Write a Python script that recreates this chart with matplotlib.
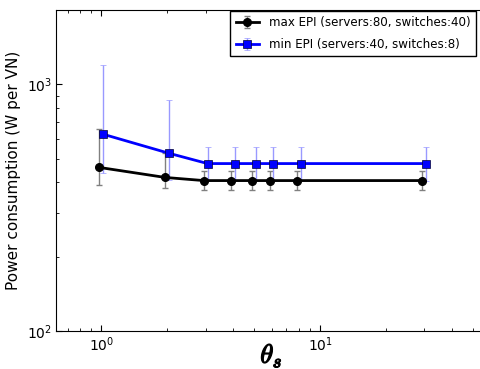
import matplotlib
matplotlib.use("Agg")
import matplotlib.pyplot as plt
import matplotlib.patheffects as pe

plt.rcParams['font.family'] = 'DejaVu Sans'
plt.rcParams['mathtext.fontset'] = 'cm'

theta = [1, 2, 3, 4, 5, 6, 8, 30]

max_epi = [460, 419, 407, 407, 407, 407, 407, 407]
max_lo = [392, 381, 371, 371, 371, 371, 371, 371]
max_hi = [656, 525, 445, 445, 445, 445, 445, 445]

min_epi = [627, 525, 477, 477, 477, 477, 477, 477]
min_lo = [438, 411, 407, 407, 407, 407, 407, 407]
min_hi = [1195, 861, 555, 555, 555, 555, 555, 555]

labels = ["max EPI (servers:80, switches:40)",
          "min EPI (servers:40, switches:8)"]

fig = plt.figure(figsize=(4.81, 3.69), dpi=100)
# right spine sits just past the image edge, as in the original crop
ax = fig.add_axes([0.1164, 0.103, 0.896, 0.870])

# slight horizontal offset so the error bars don't overlap
x_black = [t * 0.98 for t in theta]
x_blue = [t * 1.02 for t in theta]

err_black = [[m - l for m, l in zip(max_epi, max_lo)],
             [h - m for m, h in zip(max_epi, max_hi)]]
err_blue = [[m - l for m, l in zip(min_epi, min_lo)],
            [h - m for m, h in zip(min_epi, min_hi)]]

ax.errorbar(x_black, max_epi, yerr=err_black, color='black', marker='o',
            markersize=5.5, linewidth=2, ecolor='#808080', elinewidth=1,
            capsize=2.5, label=labels[0])
ax.errorbar(x_blue, min_epi, yerr=err_blue, color='blue', marker='s',
            markersize=6, markeredgecolor='#000033', markeredgewidth=0.5,
            linewidth=2, ecolor='#9999ff', elinewidth=1,
            capsize=2.5, label=labels[1])

ax.set_xscale('log')
ax.set_yscale('log')
ax.set_xlim(0.62, 58)
ax.set_ylim(100, 2000)

ax.tick_params(which='both', direction='in', top=True, right=True)
ax.tick_params(which='major', length=4, labelsize=10, pad=3)
ax.tick_params(which='minor', length=2)

ax.set_ylabel("Power consumption (W per VN)", fontsize=11)
xl = ax.set_xlabel(r"$\theta_s$", fontsize=19, va='center')
xl.set_path_effects([pe.withStroke(linewidth=0.9, foreground='black')])
ax.xaxis.set_label_coords(0.5, -0.075)

leg = ax.legend(loc='upper right', fontsize=8.6, fancybox=False,
                framealpha=1, edgecolor='black', borderaxespad=0,
                bbox_to_anchor=(476 / 481, 1 - 11 / 369),
                bbox_transform=fig.transFigure,
                labelspacing=0.7, borderpad=0.45)
leg.get_frame().set_linewidth(1)

fig.savefig("out.png", dpi=100)
